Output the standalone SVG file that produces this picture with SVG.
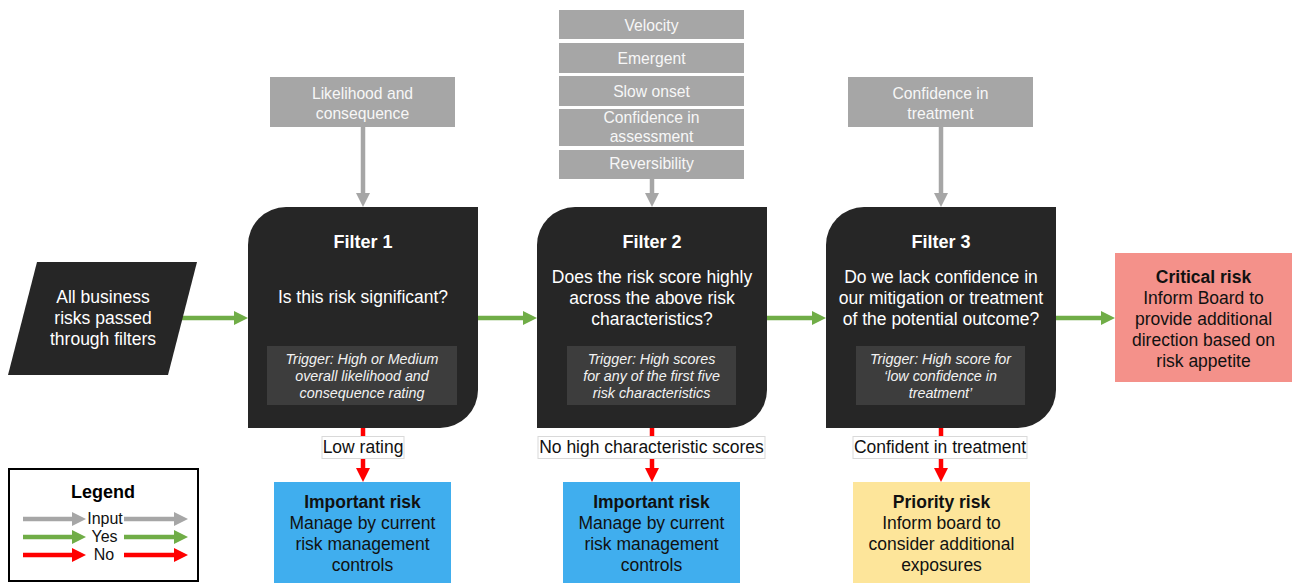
<svg xmlns="http://www.w3.org/2000/svg" width="1300" height="583" viewBox="0 0 1300 583">
<style>
text{font-family:"Liberation Sans",Arial,sans-serif;text-anchor:middle}
.filter{fill:#262626}
.trig{fill:#3d3d3d}
.ft{fill:#fff;font-size:17.5px}
.fh{fill:#fff;font-size:18px;font-weight:bold}
.tt{fill:#f2f2f2;font-size:14.3px;font-style:italic}
.inp{fill:#a6a6a6}
.it{fill:#f7f7f7;font-size:15.7px}
.ot{fill:#111;font-size:17.5px}
.ob{fill:#111;font-size:17.5px;font-weight:bold}
.lbl{fill:#fff;stroke:#d9d9d9;stroke-width:1}
.lt{fill:#111;font-size:17.5px}
.lg{fill:#111;font-size:16px}
.g{stroke:#70ad47;stroke-width:4.5;fill:none}
.gr{stroke:#a6a6a6;stroke-width:4.5;fill:none}
.r{stroke:#ff0000;stroke-width:4.5;fill:none}
</style>
<defs>
<marker id="mg" viewBox="0 0 14 14" refX="0" refY="7" markerWidth="14" markerHeight="14" markerUnits="userSpaceOnUse" orient="auto"><path d="M0,0L14,7L0,14Z" fill="#70ad47"/></marker>
<marker id="mgr" viewBox="0 0 14 14" refX="0" refY="7" markerWidth="14" markerHeight="14" markerUnits="userSpaceOnUse" orient="auto"><path d="M0,0L14,7L0,14Z" fill="#a6a6a6"/></marker>
<marker id="mr" viewBox="0 0 14 14" refX="0" refY="7" markerWidth="14" markerHeight="14" markerUnits="userSpaceOnUse" orient="auto"><path d="M0,0L14,7L0,14Z" fill="#ff0000"/></marker>
</defs>

<g id="connectors">
<line class="g" x1="182" y1="318" x2="234" y2="318" marker-end="url(#mg)"/>
<line class="g" x1="478" y1="318" x2="523" y2="318" marker-end="url(#mg)"/>
<line class="g" x1="767" y1="318" x2="812" y2="318" marker-end="url(#mg)"/>
<line class="g" x1="1056" y1="318" x2="1101" y2="318" marker-end="url(#mg)"/>
<line class="gr" x1="363" y1="127" x2="363" y2="193" marker-end="url(#mgr)"/>
<line class="gr" x1="652" y1="179" x2="652" y2="193" marker-end="url(#mgr)"/>
<line class="gr" x1="941" y1="127" x2="941" y2="193" marker-end="url(#mgr)"/>
<line class="r" x1="363" y1="428" x2="363" y2="437"/>
<line class="r" x1="363" y1="458" x2="363" y2="468" marker-end="url(#mr)"/>
<line class="r" x1="652" y1="428" x2="652" y2="437"/>
<line class="r" x1="652" y1="458" x2="652" y2="468" marker-end="url(#mr)"/>
<line class="r" x1="941" y1="428" x2="941" y2="437"/>
<line class="r" x1="941" y1="458" x2="941" y2="468" marker-end="url(#mr)"/>
</g>

<g id="start">
<polygon points="37,262 197,262 168,375 8,375" fill="#262626"/>
<text class="ft" x="103" y="303">All business</text>
<text class="ft" x="103" y="324">risks passed</text>
<text class="ft" x="103" y="345">through filters</text>
</g>

<g id="input1">
<rect class="inp" x="270" y="77" width="185" height="50"/>
<text class="it" x="362.5" y="99">Likelihood and</text>
<text class="it" x="362.5" y="119">consequence</text>
</g>

<g id="input2">
<rect class="inp" x="559" y="10" width="185" height="29"/>
<text class="it" x="651.5" y="31">Velocity</text>
<rect class="inp" x="559" y="43" width="185" height="30"/>
<text class="it" x="651.5" y="64">Emergent</text>
<rect class="inp" x="559" y="76" width="185" height="30"/>
<text class="it" x="651.5" y="97">Slow onset</text>
<rect class="inp" x="559" y="109" width="185" height="37"/>
<text class="it" x="651.5" y="123">Confidence in</text>
<text class="it" x="651.5" y="142">assessment</text>
<rect class="inp" x="559" y="150" width="185" height="29"/>
<text class="it" x="651.5" y="169">Reversibility</text>
</g>

<g id="input3">
<rect class="inp" x="848" y="77" width="185" height="50"/>
<text class="it" x="940.5" y="99">Confidence in</text>
<text class="it" x="940.5" y="119">treatment</text>
</g>

<g id="filter1">
<path class="filter" d="M248,245A38,38 0 0 1 286,207H478V390A38,38 0 0 1 440,428H248Z"/>
<text class="fh" x="363" y="248">Filter 1</text>
<text class="ft" x="363" y="303">Is this risk significant?</text>
<rect class="trig" x="267" y="346" width="190" height="59"/>
<text class="tt" x="362" y="364">Trigger: High or Medium</text>
<text class="tt" x="362" y="381">overall likelihood and</text>
<text class="tt" x="362" y="398">consequence rating</text>
</g>

<g id="filter2">
<path class="filter" d="M537,245A38,38 0 0 1 575,207H767V390A38,38 0 0 1 729,428H537Z"/>
<text class="fh" x="652" y="248">Filter 2</text>
<text class="ft" x="652" y="283">Does the risk score highly</text>
<text class="ft" x="652" y="304">across the above risk</text>
<text class="ft" x="652" y="325">characteristics?</text>
<rect class="trig" x="567" y="346" width="169" height="59"/>
<text class="tt" x="651.5" y="364">Trigger: High scores</text>
<text class="tt" x="651.5" y="381">for any of the first five</text>
<text class="tt" x="651.5" y="398">risk characteristics</text>
</g>

<g id="filter3">
<path class="filter" d="M826,245A38,38 0 0 1 864,207H1056V390A38,38 0 0 1 1018,428H826Z"/>
<text class="fh" x="941" y="248">Filter 3</text>
<text class="ft" x="941" y="283">Do we lack confidence in</text>
<text class="ft" x="941" y="304">our mitigation or treatment</text>
<text class="ft" x="941" y="325">of the potential outcome?</text>
<rect class="trig" x="856" y="346" width="169" height="59"/>
<text class="tt" x="940.5" y="364">Trigger: High score for</text>
<text class="tt" x="940.5" y="381">‘low confidence in</text>
<text class="tt" x="940.5" y="398">treatment’</text>
</g>

<g id="critical">
<rect x="1115" y="253" width="177" height="129" fill="#f4918a"/>
<text class="ob" x="1203.5" y="283">Critical risk</text>
<text class="ot" x="1203.5" y="304">Inform Board to</text>
<text class="ot" x="1203.5" y="325">provide additional</text>
<text class="ot" x="1203.5" y="346">direction based on</text>
<text class="ot" x="1203.5" y="367">risk appetite</text>
</g>

<g id="label1">
<rect class="lbl" x="322" y="436.5" width="82" height="22"/>
<text class="lt" x="363" y="453">Low rating</text>
</g>
<g id="label2">
<rect class="lbl" x="538" y="436.5" width="227" height="22"/>
<text class="lt" x="651.5" y="453">No high characteristic scores</text>
</g>
<g id="label3">
<rect class="lbl" x="853" y="436.5" width="174" height="22"/>
<text class="lt" x="940" y="453">Confident in treatment</text>
</g>

<g id="important1">
<rect x="274" y="482" width="177" height="101" fill="#40aeee"/>
<text class="ob" x="362.5" y="508">Important risk</text>
<text class="ot" x="362.5" y="529">Manage by current</text>
<text class="ot" x="362.5" y="550">risk management</text>
<text class="ot" x="362.5" y="571">controls</text>
</g>
<g id="important2">
<rect x="563" y="482" width="177" height="101" fill="#40aeee"/>
<text class="ob" x="651.5" y="508">Important risk</text>
<text class="ot" x="651.5" y="529">Manage by current</text>
<text class="ot" x="651.5" y="550">risk management</text>
<text class="ot" x="651.5" y="571">controls</text>
</g>
<g id="priority">
<rect x="853" y="482" width="177" height="101" fill="#fde59a"/>
<text class="ob" x="941.5" y="508">Priority risk</text>
<text class="ot" x="941.5" y="529">Inform board to</text>
<text class="ot" x="941.5" y="550">consider additional</text>
<text class="ot" x="941.5" y="571">exposures</text>
</g>

<g id="legend">
<rect x="9" y="469" width="189" height="112" fill="#fff" stroke="#000" stroke-width="2"/>
<text x="103" y="498" style="font-size:18px;font-weight:bold;fill:#000">Legend</text>
<line class="gr" x1="23" y1="519" x2="72" y2="519" marker-end="url(#mgr)"/>
<line class="gr" x1="124" y1="519" x2="174" y2="519" marker-end="url(#mgr)"/>
<text class="lg" x="105" y="524">Input</text>
<line class="g" x1="23" y1="537" x2="72" y2="537" marker-end="url(#mg)"/>
<line class="g" x1="124" y1="537" x2="174" y2="537" marker-end="url(#mg)"/>
<text class="lg" x="104.5" y="542">Yes</text>
<line class="r" x1="23" y1="555" x2="72" y2="555" marker-end="url(#mr)"/>
<line class="r" x1="124" y1="555" x2="174" y2="555" marker-end="url(#mr)"/>
<text class="lg" x="104" y="560">No</text>
</g>
</svg>
